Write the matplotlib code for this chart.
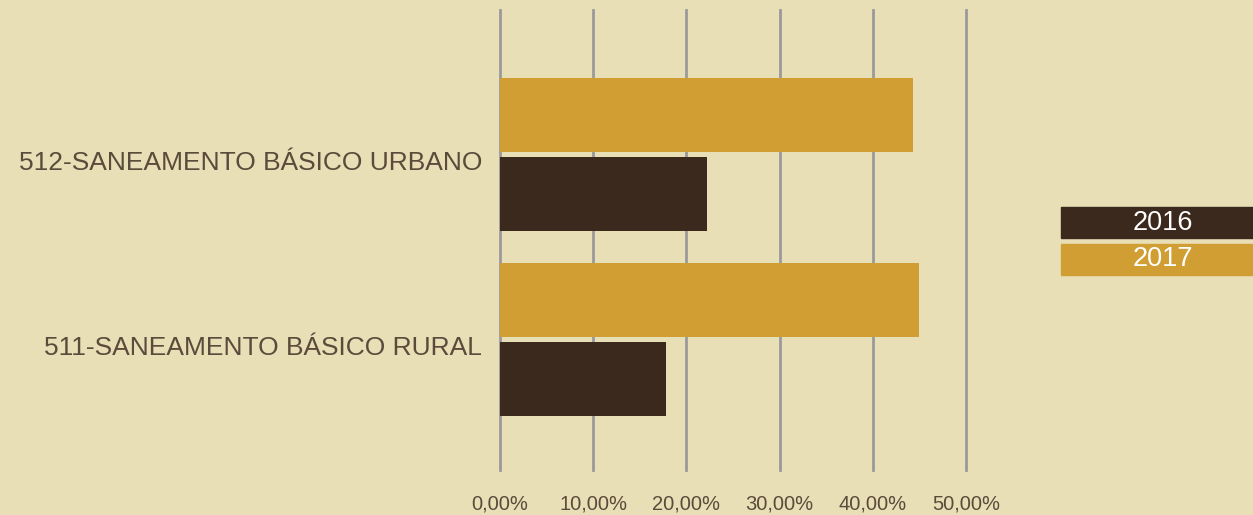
import numpy as np
import matplotlib.pyplot as plt
from matplotlib.patches import Rectangle

plt.rcParams['font.family'] = ['Liberation Sans', 'DejaVu Sans']

categories = ['511-SANEAMENTO BÁSICO RURAL', '512-SANEAMENTO BÁSICO URBANO']
years = ['2016', '2017']
values_2016 = [17.8, 22.2]
values_2017 = [45.0, 44.3]
xticks = [0, 10, 20, 30, 40, 50]
xtick_labels = ['0,00%', '10,00%', '20,00%', '30,00%', '40,00%', '50,00%']

BG = '#e8dfb6'
DARK = '#3b291e'
GOLD = '#d19e33'
TEXT = '#5a4b3b'
GRID = '#9a9a9a'

W, H = 1253, 515
fig = plt.figure(figsize=(W / 100, H / 100), dpi=100, facecolor=BG)
ax = fig.add_axes([500 / W, 1 - 470 / H, 466 / W, 460 / H])
ax.set_facecolor(BG)

y = np.arange(len(categories))
off = 0.2135
h = 0.4
ax.barh(y + off, values_2017, height=h, color=GOLD, zorder=3)
ax.barh(y - off, values_2016, height=h, color=DARK, zorder=3)

ax.set_xlim(0, 50)
ax.set_ylim(-0.705, 1.781)
ax.set_xticks(xticks)
ax.set_xticklabels(xtick_labels, fontsize=14.5, color=TEXT)
ax.set_yticks(y - 0.03)
ax.set_yticklabels(categories, fontsize=19, color=TEXT)
ax.tick_params(axis='x', length=0, pad=18)
ax.tick_params(axis='y', length=0, pad=13)
for s in ax.spines.values():
    s.set_visible(False)
ax.grid(axis='x', color=GRID, lw=2, zorder=1)
ax.set_axisbelow(True)
for gl in ax.get_xgridlines():
    gl.set_clip_on(False)

# legend boxes at right
for i, (lab, col) in enumerate(zip(years, [DARK, GOLD])):
    top = 207 + i * 37
    fig.patches.append(Rectangle((1061 / W, 1 - (top + 31) / H), 192 / W, 31 / H,
                                 transform=fig.transFigure, color=col, zorder=2))
    fig.text(1163 / W, 1 - (top + 15.5) / H, lab, ha='center', va='center',
             fontsize=19.5, color='white', zorder=3)

fig.savefig('out.png', dpi=100, facecolor=BG)
